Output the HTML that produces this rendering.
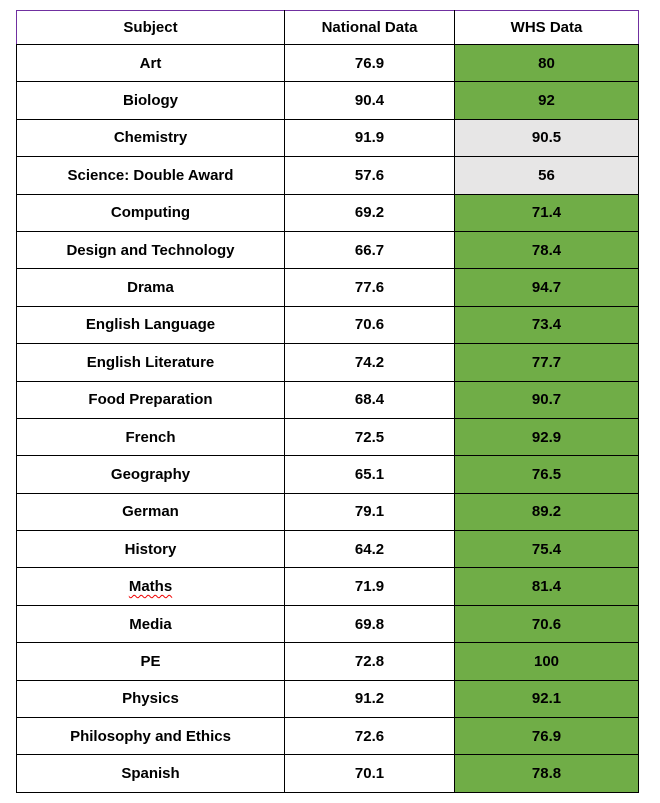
<!DOCTYPE html>
<html><head><style>
html,body{margin:0;padding:0;background:#fff;width:660px;height:803px;overflow:hidden}
table{position:absolute;left:16px;top:10px;border-collapse:collapse}
td{border:1px solid #000;text-align:center;padding:0;height:36.4px;font-family:"Liberation Sans",sans-serif;font-weight:bold;font-size:15px;color:#000}
td.a{width:267px}td.b{width:169px}td.c{width:183px}
tr.h td{height:33px;font-weight:bold;border-top:1px solid #7030a0}
tr.h td:first-child{border-left:1px solid #7030a0}
tr.h td:last-child{border-right:1px solid #7030a0}
.g{background:#70ad47}.y{background:#e7e6e6}
.sq{text-decoration:underline wavy #e00;text-decoration-thickness:1px;text-underline-offset:3px}
</style></head><body>
<table>
<tr class="h"><td class="a"><b>Subject</b></td><td class="b"><b>National Data</b></td><td class="c"><b>WHS Data</b></td></tr>
<tr><td>Art</td><td>76.9</td><td class="g">80</td></tr>
<tr><td>Biology</td><td>90.4</td><td class="g">92</td></tr>
<tr><td>Chemistry</td><td>91.9</td><td class="y">90.5</td></tr>
<tr><td>Science: Double Award</td><td>57.6</td><td class="y">56</td></tr>
<tr><td>Computing</td><td>69.2</td><td class="g">71.4</td></tr>
<tr><td>Design and Technology</td><td>66.7</td><td class="g">78.4</td></tr>
<tr><td>Drama</td><td>77.6</td><td class="g">94.7</td></tr>
<tr><td>English Language</td><td>70.6</td><td class="g">73.4</td></tr>
<tr><td>English Literature</td><td>74.2</td><td class="g">77.7</td></tr>
<tr><td>Food Preparation</td><td>68.4</td><td class="g">90.7</td></tr>
<tr><td>French</td><td>72.5</td><td class="g">92.9</td></tr>
<tr><td>Geography</td><td>65.1</td><td class="g">76.5</td></tr>
<tr><td>German</td><td>79.1</td><td class="g">89.2</td></tr>
<tr><td>History</td><td>64.2</td><td class="g">75.4</td></tr>
<tr><td><span class="sq">Maths</span></td><td>71.9</td><td class="g">81.4</td></tr>
<tr><td>Media</td><td>69.8</td><td class="g">70.6</td></tr>
<tr><td>PE</td><td>72.8</td><td class="g">100</td></tr>
<tr><td>Physics</td><td>91.2</td><td class="g">92.1</td></tr>
<tr><td>Philosophy and Ethics</td><td>72.6</td><td class="g">76.9</td></tr>
<tr><td>Spanish</td><td>70.1</td><td class="g">78.8</td></tr>
</table>
</body></html>
